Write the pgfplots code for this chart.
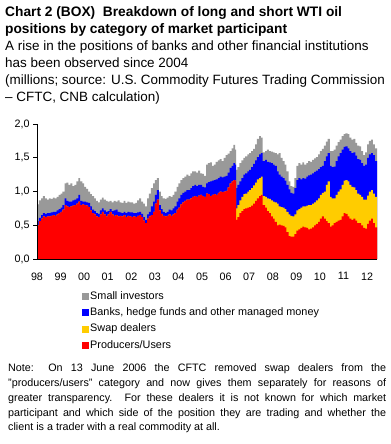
\documentclass[border=0pt]{standalone}
\usepackage{fontspec}
\setmainfont{Liberation Sans}
\usepackage{pgfplots}
\usepackage{pgfplotstable}
\pgfplotsset{compat=1.18}
\definecolor{cgrey}{RGB}{153,153,153}
\definecolor{cblue}{RGB}{0,0,255}
\definecolor{cyel}{RGB}{255,204,0}
\definecolor{cred}{RGB}{255,0,0}
% cumulative tops: r = producers/users, y = + swap dealers, b = + banks etc., g = + small investors
\pgfplotstableread{
t r y b g
1998.00 .50 .50 .56 .81
1998.08 .56 .56 .61 .87
1998.17 .60 .60 .65 .90
1998.25 .63 .63 .68 .93
1998.33 .62 .62 .67 .90
1998.42 .63 .63 .68 .88
1998.50 .63 .63 .68 .90
1998.58 .64 .64 .69 .89
1998.67 .65 .65 .70 .91
1998.75 .64 .64 .70 .90
1998.83 .66 .66 .72 .92
1998.92 .68 .68 .74 .95
1999.00 .70 .70 .76 .97
1999.08 .73 .73 .80 1.00
1999.17 .80 .80 .90 1.12
1999.25 .78 .78 .86 1.13
1999.33 .77 .77 .85 1.10
1999.42 .78 .78 .85 1.12
1999.50 .79 .79 .87 1.08
1999.58 .80 .80 .88 1.10
1999.67 .82 .82 .90 1.15
1999.75 .85 .85 .95 1.20
1999.83 .80 .80 .86 1.15
1999.92 .81 .81 .85 1.12
2000.00 .80 .80 .85 1.07
2000.08 .79 .79 .84 1.04
2000.17 .77 .77 .83 1.00
2000.25 .72 .72 .78 .96
2000.33 .68 .68 .73 .93
2000.42 .66 .66 .71 .90
2000.50 .63 .63 .68 .86
2000.58 .62 .62 .67 .84
2000.67 .66 .66 .72 .88
2000.75 .70 .70 .75 .91
2000.83 .66 .66 .72 .88
2000.92 .63 .63 .70 .86
2001.00 .66 .66 .71 .85
2001.08 .70 .70 .74 .86
2001.17 .66 .66 .71 .84
2001.25 .64 .64 .72 .86
2001.33 .65 .65 .73 .85
2001.42 .63 .63 .70 .87
2001.50 .64 .64 .69 .84
2001.58 .63 .63 .68 .83
2001.67 .65 .65 .70 .86
2001.75 .62 .62 .68 .83
2001.83 .64 .64 .70 .85
2001.92 .63 .63 .69 .84
2002.00 .62 .62 .69 .84
2002.08 .63 .63 .68 .82
2002.17 .62 .62 .68 .83
2002.25 .64 .64 .69 .87
2002.33 .65 .65 .70 .90
2002.42 .62 .62 .67 .85
2002.50 .57 .57 .62 .82
2002.58 .53 .53 .58 .78
2002.67 .60 .60 .66 .90
2002.75 .63 .63 .70 .97
2002.83 .65 .65 .78 1.05
2002.92 .70 .70 .85 1.12
2003.00 .82 .82 .95 1.17
2003.08 .88 .88 1.02 1.20
2003.17 .72 .72 .80 1.00
2003.25 .67 .67 .74 .93
2003.33 .64 .64 .70 .90
2003.42 .63 .63 .68 .89
2003.50 .64 .64 .70 .91
2003.58 .66 .66 .73 .93
2003.67 .64 .64 .72 .92
2003.75 .66 .66 .75 .95
2003.83 .68 .68 .78 1.00
2003.92 .73 .73 .85 1.07
2004.00 .76 .76 .90 1.12
2004.08 .81 .81 .95 1.17
2004.17 .84 .84 .98 1.20
2004.25 .86 .86 1.00 1.22
2004.33 .88 .88 1.02 1.25
2004.42 .88 .88 1.02 1.23
2004.50 .90 .90 1.05 1.27
2004.58 .92 .92 1.08 1.30
2004.67 .93 .93 1.10 1.30
2004.75 .92 .92 1.08 1.28
2004.83 .94 .94 1.10 1.31
2004.92 .95 .95 1.10 1.27
2005.00 .93 .93 1.07 1.26
2005.08 .92 .92 1.06 1.23
2005.17 .97 .97 1.12 1.40
2005.25 .96 .96 1.14 1.42
2005.33 .93 .93 1.15 1.43
2005.42 .95 .95 1.16 1.38
2005.50 .96 .96 1.17 1.40
2005.58 .95 .95 1.18 1.44
2005.67 .98 .98 1.20 1.46
2005.75 1.00 1.00 1.22 1.48
2005.83 .99 .99 1.21 1.45
2005.92 1.00 1.00 1.22 1.50
2006.00 1.01 1.01 1.23 1.54
2006.08 1.06 1.06 1.28 1.56
2006.17 1.12 1.12 1.35 1.60
2006.25 1.15 1.15 1.38 1.64
2006.33 1.17 1.17 1.42 1.69
2006.40 1.16 1.16 1.40 1.62
2006.45 .58 .75 1.05 1.32
2006.50 .62 .80 1.10 1.36
2006.58 .68 .87 1.15 1.42
2006.67 .71 .92 1.20 1.46
2006.75 .74 .96 1.25 1.50
2006.83 .75 .97 1.27 1.52
2006.92 .76 1.00 1.30 1.55
2007.00 .77 1.02 1.32 1.57
2007.08 .79 1.05 1.36 1.60
2007.17 .82 1.09 1.41 1.63
2007.25 .86 1.13 1.46 1.70
2007.33 .90 1.18 1.51 1.78
2007.42 .93 1.20 1.55 1.82
2007.50 .95 1.22 1.57 1.80
2007.57 .80 .93 1.45 1.58
2007.67 .76 .92 1.47 1.60
2007.75 .71 .90 1.44 1.62
2007.83 .68 .89 1.43 1.60
2007.92 .63 .87 1.42 1.59
2008.00 .60 .85 1.40 1.58
2008.08 .55 .84 1.38 1.57
2008.17 .50 .82 1.30 1.55
2008.25 .51 .78 1.25 1.57
2008.33 .50 .77 1.22 1.50
2008.42 .49 .76 1.20 1.45
2008.50 .47 .74 1.16 1.40
2008.58 .40 .70 1.10 1.30
2008.67 .34 .66 1.03 1.15
2008.75 .33 .64 .98 1.08
2008.83 .33 .63 .97 1.07
2008.92 .37 .66 1.05 1.20
2009.00 .42 .72 1.17 1.38
2009.08 .44 .74 1.20 1.42
2009.17 .46 .76 1.18 1.40
2009.25 .48 .78 1.20 1.43
2009.33 .47 .78 1.19 1.40
2009.42 .46 .79 1.22 1.42
2009.50 .44 .80 1.24 1.45
2009.58 .45 .80 1.25 1.44
2009.67 .47 .82 1.27 1.47
2009.75 .50 .84 1.29 1.49
2009.83 .52 .87 1.31 1.51
2009.92 .55 .90 1.33 1.55
2010.00 .60 .95 1.36 1.60
2010.08 .63 .98 1.38 1.63
2010.17 .60 1.00 1.45 1.68
2010.25 .56 1.10 1.52 1.74
2010.33 .53 1.15 1.57 1.78
2010.42 .48 .92 1.38 1.60
2010.50 .50 .90 1.36 1.60
2010.58 .53 .90 1.37 1.62
2010.67 .55 .95 1.45 1.68
2010.75 .57 1.00 1.52 1.73
2010.83 .58 1.03 1.57 1.77
2010.92 .63 1.10 1.62 1.82
2011.00 .68 1.16 1.66 1.85
2011.08 .67 1.17 1.67 1.86
2011.17 .63 1.15 1.64 1.85
2011.25 .60 1.10 1.60 1.80
2011.33 .58 1.07 1.57 1.77
2011.42 .60 1.06 1.58 1.78
2011.50 .57 1.02 1.53 1.72
2011.58 .53 .97 1.48 1.68
2011.67 .53 .95 1.47 1.67
2011.75 .50 .92 1.42 1.60
2011.83 .46 .88 1.38 1.54
2011.92 .45 .88 1.40 1.58
2012.00 .52 .94 1.50 1.70
2012.08 .57 1.00 1.55 1.75
2012.17 .60 1.02 1.57 1.77
2012.25 .53 .97 1.54 1.70
2012.33 .47 .92 1.45 1.64
2012.42 .47 .92 1.45 1.64
}\data
\begin{document}
\begin{tikzpicture}
\path[use as bounding box] (-37bp,-185bp) rectangle (354bp,259bp);
\begin{axis}[
  at={(0,0)}, anchor=south west,
  scale only axis, width=340bp, height=135bp,
  xmin=1998, xmax=2012.42, ymin=0, ymax=2,
  enlargelimits=false,
  axis x line*=bottom, axis y line*=left,
  axis line style={-, black, line width=0.9bp},
  xtick={1998,...,2012},
  xticklabels={98,99,00,01,02,03,04,05,06,07,08,09,10,11,12},
  x tick style={draw=none},
  ytick={0,0.5,1,1.5,2},
  y tick style={black, line width=0.8bp},
  tick align=outside, major tick length=4bp,
  yticklabel style={/pgf/number format/.cd, fixed, fixed zerofill, precision=1, use comma},
  xticklabel style={yshift=-6bp},
  ticklabel style={font=\fontsize{10.8}{13}\selectfont},
  /pgf/number format/assume math mode=true,
  axis on top,
  const plot,
  legend cell align=left,
  legend image code/.code={\fill[#1] (0bp,-3.5bp) rectangle (7bp,3.5bp);},
  legend style={at={(axis description cs:0.1324,-0.2296)}, anchor=north west,
    draw=none, fill=none, inner sep=0pt, row sep=3.8bp,
    font=\fontsize{10.9}{12}\selectfont,
    nodes={inner sep=1bp, text height=8bp, text depth=2.5bp}},
]
\addplot[fill=cgrey, draw=none] table[x=t, y=g] {\data} \closedcycle;
\addlegendentry{Small investors}
\addplot[fill=cblue, draw=none] table[x=t, y=b] {\data} \closedcycle;
\addlegendentry{Banks, hedge funds and other managed money}
\addplot[fill=cyel, draw=none] table[x=t, y=y] {\data} \closedcycle;
\addlegendentry{Swap dealers}
\addplot[fill=cred, draw=none] table[x=t, y=r] {\data} \closedcycle;
\addlegendentry{Producers/Users}
\end{axis}
\node[anchor=north west, inner sep=0pt, align=left, font=\fontsize{13.5}{17.2}\selectfont] at (-32bp,253bp)
{{\fontsize{13.8}{17.2}\selectfont\textbf{Chart 2 (BOX)\ \ Breakdown of long and short WTI oil}}\\
{\fontsize{13.8}{17.2}\selectfont\textbf{positions by category of market participant}}\\
A rise in the positions of banks and other financial institutions\\
has been observed since 2004\\
(millions; source: U.S. Commodity Futures Trading Commission\\
-- CFTC, CNB calculation)};
\node[anchor=north west, inner sep=0pt, align=left, font=\fontsize{10.8}{14.8}\selectfont] at (-29bp,-105bp)
{\makebox[378bp][s]{Note: On 13 June 2006 the CFTC removed swap dealers from the}\\
\makebox[378bp][s]{"producers/users" category and now gives them separately for reasons of}\\
\makebox[378bp][s]{greater transparency. For these dealers it is not known for which market}\\
\makebox[378bp][s]{participant and which side of the position they are trading and whether the}\\
client is a trader with a real commodity at all.};
\end{tikzpicture}
\end{document}
